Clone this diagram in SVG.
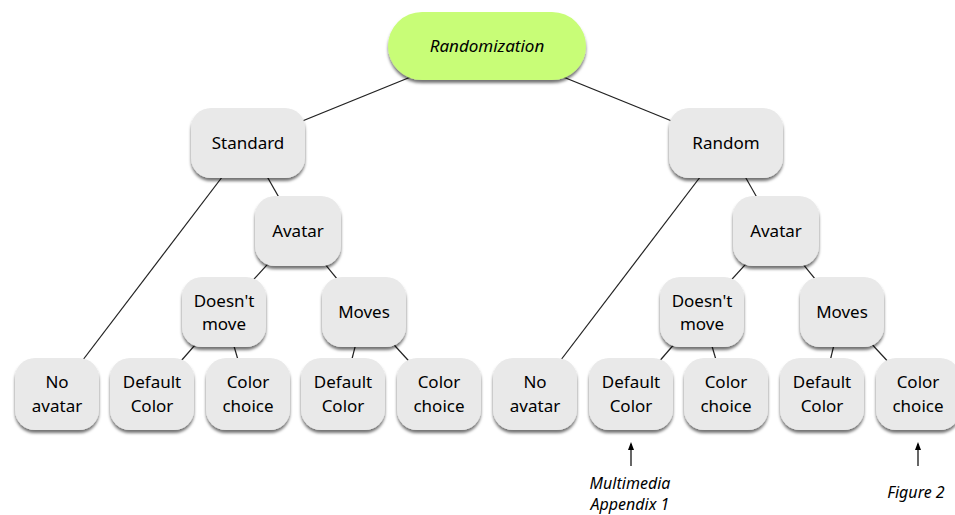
<svg xmlns="http://www.w3.org/2000/svg" width="955" height="515" viewBox="0 0 955 515">
<defs>
<filter id="sh" x="-20%" y="-20%" width="140%" height="150%">
<feDropShadow dx="0" dy="3" stdDeviation="1.6" flood-color="#000" flood-opacity="0.55"/>
</filter>
<marker id="ah" markerWidth="8" markerHeight="10" refX="6" refY="5" orient="auto" markerUnits="userSpaceOnUse">
<path d="M0,2 L8,5 L0,8 Z" fill="#000"/>
</marker>
</defs>
<style>
.n{fill:#e9e9e9;filter:url(#sh)}
.root{fill:#c8fd77;filter:url(#sh)}
text{font-family:"Noto Sans","Liberation Sans",sans-serif;font-size:17px;fill:#000;text-anchor:middle}
.it{font-style:italic}
.lab{font-size:16px}
.c line{stroke:#222;stroke-width:1.2}
.ar line{stroke:#000;stroke-width:1.2}
</style>
<rect width="955" height="515" fill="#fff"/>
<g class="c" id="connectors">
<line x1="487" y1="46" x2="248" y2="143"/>
<line x1="487" y1="46" x2="726" y2="143"/>
<line x1="248" y1="143" x2="57" y2="394"/>
<line x1="248" y1="143" x2="298" y2="231"/>
<line x1="298" y1="231" x2="224" y2="312"/>
<line x1="298" y1="231" x2="364" y2="312"/>
<line x1="224" y1="312" x2="152" y2="394"/>
<line x1="224" y1="312" x2="248" y2="394"/>
<line x1="364" y1="312" x2="343" y2="394"/>
<line x1="364" y1="312" x2="439" y2="394"/>
<line x1="726" y1="143" x2="535" y2="394"/>
<line x1="726" y1="143" x2="776" y2="231"/>
<line x1="776" y1="231" x2="702" y2="312"/>
<line x1="776" y1="231" x2="842" y2="312"/>
<line x1="702" y1="312" x2="631" y2="394"/>
<line x1="702" y1="312" x2="726" y2="394"/>
<line x1="842" y1="312" x2="822" y2="394"/>
<line x1="842" y1="312" x2="918" y2="394"/>
</g>
<g id="randomization"><rect class="root" x="388" y="12" width="198" height="68" rx="34"/><text class="it" x="487" y="52">Randomization</text></g>
<g id="standard"><rect class="n" x="191" y="108" width="114" height="70" rx="20"/><text x="248" y="149">Standard</text></g>
<g id="random"><rect class="n" x="669" y="108" width="114" height="70" rx="20"/><text x="726" y="149">Random</text></g>
<g id="avatar-l"><rect class="n" x="255" y="196" width="86" height="70" rx="20"/><text x="298" y="237">Avatar</text></g>
<g id="avatar-r"><rect class="n" x="733" y="196" width="86" height="70" rx="20"/><text x="776" y="237">Avatar</text></g>
<g id="dm-l"><rect class="n" x="182" y="277" width="84" height="70" rx="20"/><text x="224" y="307">Doesn't</text><text x="224" y="330">move</text></g>
<g id="mv-l"><rect class="n" x="322" y="277" width="84" height="70" rx="20"/><text x="364" y="318">Moves</text></g>
<g id="dm-r"><rect class="n" x="660" y="277" width="84" height="70" rx="20"/><text x="702" y="307">Doesn't</text><text x="702" y="330">move</text></g>
<g id="mv-r"><rect class="n" x="800" y="277" width="84" height="70" rx="20"/><text x="842" y="318">Moves</text></g>
<g id="na-l"><rect class="n" x="15" y="358" width="84" height="72" rx="20"/><text x="57" y="388">No</text><text x="57" y="412">avatar</text></g>
<g id="dc-l1"><rect class="n" x="110" y="358" width="84" height="72" rx="20"/><text x="152" y="388">Default</text><text x="152" y="412">Color</text></g>
<g id="cc-l1"><rect class="n" x="206" y="358" width="84" height="72" rx="20"/><text x="248" y="388">Color</text><text x="248" y="412">choice</text></g>
<g id="dc-l2"><rect class="n" x="301" y="358" width="84" height="72" rx="20"/><text x="343" y="388">Default</text><text x="343" y="412">Color</text></g>
<g id="cc-l2"><rect class="n" x="397" y="358" width="84" height="72" rx="20"/><text x="439" y="388">Color</text><text x="439" y="412">choice</text></g>
<g id="na-r"><rect class="n" x="493" y="358" width="84" height="72" rx="20"/><text x="535" y="388">No</text><text x="535" y="412">avatar</text></g>
<g id="dc-r1"><rect class="n" x="589" y="358" width="84" height="72" rx="20"/><text x="631" y="388">Default</text><text x="631" y="412">Color</text></g>
<g id="cc-r1"><rect class="n" x="684" y="358" width="84" height="72" rx="20"/><text x="726" y="388">Color</text><text x="726" y="412">choice</text></g>
<g id="dc-r2"><rect class="n" x="780" y="358" width="84" height="72" rx="20"/><text x="822" y="388">Default</text><text x="822" y="412">Color</text></g>
<g id="cc-r2"><rect class="n" x="876" y="358" width="84" height="72" rx="20"/><text x="918" y="388">Color</text><text x="918" y="412">choice</text></g>
<g class="ar" id="annotations">
<line x1="631" y1="466" x2="631" y2="444" marker-end="url(#ah)"/>
<line x1="918" y1="466" x2="918" y2="444" marker-end="url(#ah)"/>
<text class="it lab" x="630" y="489">Multimedia</text>
<text class="it lab" x="630" y="510">Appendix 1</text>
<text class="it lab" x="916" y="498">Figure 2</text>
</g>
</svg>
